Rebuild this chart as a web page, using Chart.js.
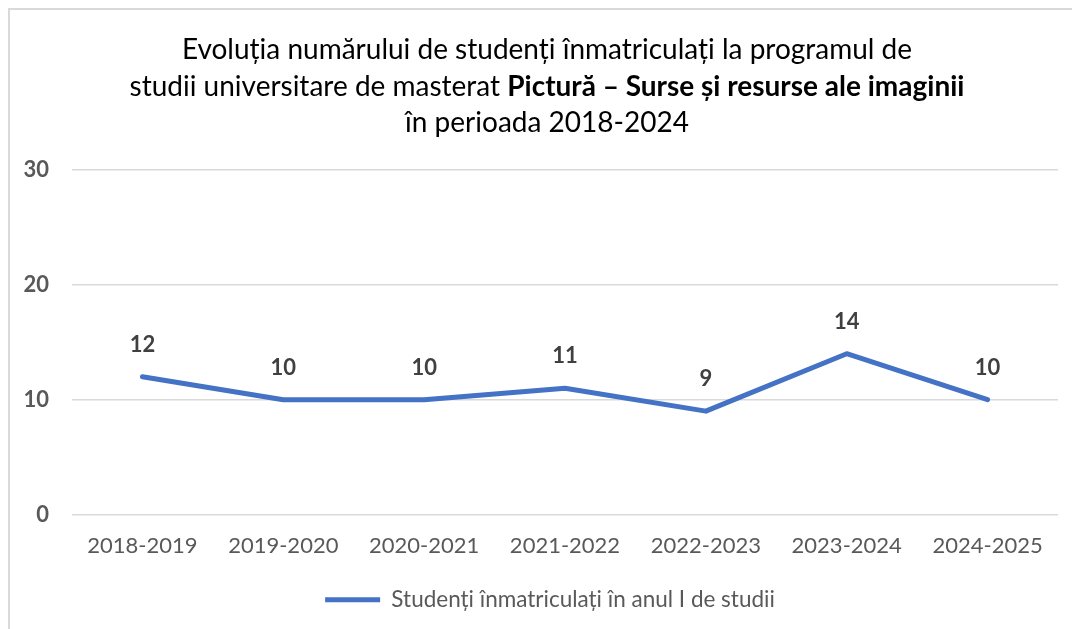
<!DOCTYPE html>
<html>
<head>
<meta charset="utf-8">
<script src="https://cdn.jsdelivr.net/npm/chart.js@4/dist/chart.umd.min.js"></script>
<style>
  html, body { margin: 0; padding: 0; background: #ffffff; }
  #wrap { position: relative; width: 1072px; height: 629px; overflow: hidden; }
  #frame { position: absolute; left: 8px; top: 8px; width: 1100px; height: 700px;
           border-left: 2px solid #d9d9d9; border-top: 2px solid #d9d9d9; pointer-events: none; }
  #title { position: absolute; left: 0; top: 30px; width: 1094px; text-align: center;
           font-family: Lato, "Open Sans", sans-serif; font-size: 28px; line-height: 36.5px; color: #000; }
  canvas { position: absolute; left: 0; top: 0; }
</style>
</head>
<body>
<div id="wrap">
  <canvas id="c" width="1072" height="629"></canvas>
  <div id="frame"></div>
  <div id="title">Evoluția numărului de studenți înmatriculați la programul de<br>studii universitare de masterat <b>Pictură – Surse și resurse ale imaginii</b><br>în perioada 2018-2024</div>
</div>
<script>
const categories = ["2018-2019", "2019-2020", "2020-2021", "2021-2022", "2022-2023", "2023-2024", "2024-2025"];
const seriesName = "Studenți înmatriculați în anul I de studii";
const students = [12, 10, 10, 11, 9, 14, 10];
const yTicks = [0, 10, 20, 30];

const FONT = "Lato, 'Open Sans', sans-serif";

const dataLabels = {
  id: 'dataLabels',
  afterDatasetsDraw(chart) {
    const ctx = chart.ctx;
    const meta = chart.getDatasetMeta(0);
    ctx.save();
    ctx.font = "bold 22px " + FONT;
    ctx.fillStyle = '#404040';
    ctx.textAlign = 'center';
    ctx.textBaseline = 'middle';
    meta.data.forEach((pt, i) => {
      ctx.fillText(String(chart.data.datasets[0].data[i]), pt.x, pt.y - 32);
    });
    ctx.restore();
  }
};

const legendShift = {
  id: 'legendShift',
  afterLayout(chart) {
    if (chart.legend) { chart.legend.left += 42; }
  }
};

new Chart(document.getElementById('c'), {
  type: 'line',
  data: {
    labels: categories,
    datasets: [{
      label: seriesName,
      data: students,
      borderColor: '#4472C4',
      backgroundColor: '#4472C4',
      borderWidth: 5,
      borderCapStyle: 'round',
      borderJoinStyle: 'round',
      pointRadius: 0,
      pointHoverRadius: 0,
      tension: 0,
      fill: false
    }]
  },
  options: {
    responsive: false,
    animation: false,
    layout: { padding: { top: 170, left: 0, right: 14, bottom: 8 } },
    plugins: {
      title: { display: false },
      tooltip: { enabled: false },
      legend: {
        position: 'bottom',
        labels: {
          usePointStyle: true,
          pointStyle: 'line',
          pointStyleWidth: 55,
          color: '#595959',
          font: { family: FONT, size: 22.5 },
          padding: 10
        }
      }
    },
    scales: {
      x: {
        offset: true,
        grid: { display: false, drawTicks: false, offset: true },
        border: { display: false },
        ticks: { color: '#595959', font: { family: FONT, size: 22 }, padding: 18, maxRotation: 0, autoSkip: false },
        afterFit(s) { s.height = 64; }
      },
      y: {
        min: 0,
        max: 30,
        afterBuildTicks(s) { s.ticks = yTicks.map(v => ({ value: v })); },
        grid: { color: '#d9d9d9', lineWidth: 1.5, drawTicks: false },
        border: { display: false },
        ticks: { color: '#595959', font: { family: FONT, size: 22, weight: 'bold' }, padding: 23 },
        afterFit(s) { s.width = 72; }
      }
    }
  },
  plugins: [dataLabels, legendShift]
});
</script>
</body>
</html>
